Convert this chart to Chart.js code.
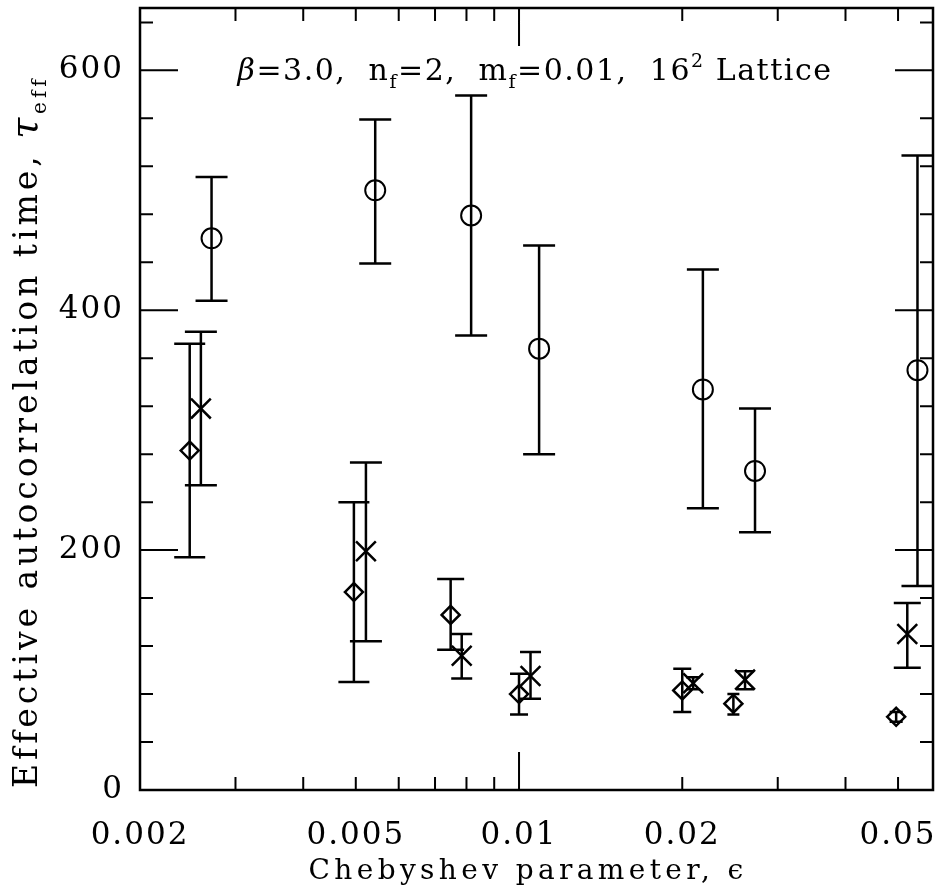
<!DOCTYPE html>
<html>
<head>
<meta charset="utf-8">
<script src="https://cdn.jsdelivr.net/npm/chart.js@4.4.1/dist/chart.umd.min.js"></script>
<style>
  html, body { margin: 0; padding: 0; background: #fff; }
</style>
</head>
<body>
<canvas id="chart" width="936" height="896"></canvas>
<script>
// circles (open)
const circleX  = [0.00271, 0.00543, 0.00816, 0.01089, 0.02183, 0.02724, 0.0543];
const circleY  = [460, 500, 479, 368, 334, 266, 350];
const circleLo = [408, 439, 379, 280, 235, 215, 170];
const circleHi = [511, 559, 579, 454, 434, 318, 529];

// crosses
const crossX  = [0.00259, 0.00522, 0.00784, 0.0105, 0.02095, 0.02611, 0.0520];
const crossY  = [318, 199, 112, 95, 89, 92, 130];
const crossLo = [254, 124, 93, 76, 84, 84, 102];
const crossHi = [382, 273, 130, 115, 94, 99, 156];

// diamonds
const diamondX  = [0.00247, 0.00496, 0.00748, 0.0100, 0.0200, 0.02485, 0.0496];
const diamondY  = [283, 165, 146, 80, 83, 72, 61];
const diamondLo = [194, 90, 117, 63, 65, 63, 57];
const diamondHi = [372, 240, 176, 97, 101, 80, 65];

// axes
const xTickValues = [0.002, 0.003, 0.004, 0.005, 0.006, 0.007, 0.008, 0.009, 0.01, 0.02, 0.03, 0.04, 0.05];
const xTickLabels = ["0.002", "0.005", "0.01", "0.02", "0.05"];
const yTickValues = [0, 40, 80, 120, 160, 200, 240, 280, 320, 360, 400, 440, 480, 520, 560, 600, 640];
const yTickLabels = ["0", "200", "400", "600"];

const FONT = '"DejaVu Serif", serif';

// cap widths (px) for the error bars
const circleCaps  = [32, 32, 32, 32, 32, 32, 32];
const crossCaps   = [32, 32, 21, 21, 14, 18, 27];
const diamondCaps = [31, 31, 27, 18, 18, 12, 13];

const errSeries = [
  { xs: circleX, lo: circleLo, hi: circleHi, caps: circleCaps },
  { xs: crossX, lo: crossLo, hi: crossHi, caps: crossCaps },
  { xs: diamondX, lo: diamondLo, hi: diamondHi, caps: diamondCaps },
];

function toPoints(xs, ys) {
  return xs.map((x, i) => ({ x: x, y: ys[i] }));
}

// draws text pieces (with sub/superscripts) centred on x, spread to a target width
function drawRich(ctx, parts, x, y, size, target) {
  const fontFor = (p) => (p.it ? 'italic ' : '') + Math.round(size * (p.scale || ((p.sub || p.sup) ? 0.62 : 1))) + 'px ' + FONT;
  ctx.letterSpacing = '0px';
  let natural = 0, count = 0;
  parts.forEach((p) => {
    ctx.font = fontFor(p);
    natural += ctx.measureText(p.t).width;
    count += p.t.length;
  });
  const ls = target ? Math.max(0, (target - natural) / count) : 0;
  let cx = x - (natural + ls * count) / 2;
  ctx.textAlign = 'left';
  ctx.textBaseline = 'alphabetic';
  ctx.letterSpacing = ls + 'px';
  parts.forEach((p) => {
    ctx.font = fontFor(p);
    const dy = p.sub ? size * 0.28 : (p.sup ? -size * 0.42 : 0);
    ctx.fillText(p.t, cx, y + dy);
    ctx.letterSpacing = '0px';
    cx += ctx.measureText(p.t).width + ls * p.t.length;
    ctx.letterSpacing = ls + 'px';
  });
  ctx.letterSpacing = '0px';
}

const framePlugin = {
  id: 'frame',
  beforeDraw(chart) {
    chart.ctx.letterSpacing = '2px';
  },
  beforeDatasetsDraw(chart) {
    const ctx = chart.ctx;
    const xs = chart.scales.x, ys = chart.scales.y;
    ctx.save();
    ctx.strokeStyle = '#000';
    ctx.lineWidth = 2.5;
    errSeries.forEach((s) => {
      s.xs.forEach((v, i) => {
        const px = xs.getPixelForValue(v);
        const pl = ys.getPixelForValue(s.lo[i]);
        const ph = ys.getPixelForValue(s.hi[i]);
        const w = s.caps[i] / 2;
        ctx.beginPath();
        ctx.moveTo(px, pl); ctx.lineTo(px, ph);
        ctx.moveTo(px - w, pl); ctx.lineTo(px + w, pl);
        ctx.moveTo(px - w, ph); ctx.lineTo(px + w, ph);
        ctx.stroke();
      });
    });
    ctx.restore();
  },
  afterDraw(chart) {
    const ctx = chart.ctx;
    const { left, right, top, bottom } = chart.chartArea;
    const xs = chart.scales.x, ys = chart.scales.y;
    ctx.save();
    ctx.strokeStyle = '#000';
    ctx.lineWidth = 2.5;
    ctx.strokeRect(left, top, right - left, bottom - top);
    ctx.lineWidth = 2;
    ctx.beginPath();
    xTickValues.forEach((v) => {
      const px = xs.getPixelForValue(v);
      const len = v === 0.01 ? 38 : 13;
      ctx.moveTo(px, bottom); ctx.lineTo(px, bottom - len);
      ctx.moveTo(px, top); ctx.lineTo(px, top + len);
    });
    yTickValues.forEach((v) => {
      if (v === 0) return;
      const py = ys.getPixelForValue(v);
      const len = v % 200 === 0 ? 38 : 13;
      ctx.moveTo(left, py); ctx.lineTo(left + len, py);
      ctx.moveTo(right, py); ctx.lineTo(right - len, py);
    });
    ctx.stroke();

    ctx.fillStyle = '#000';
    // title inside the plot
    drawRich(ctx, [
      { t: 'β', it: true }, { t: '=3.0,  n' }, { t: 'f', sub: true },
      { t: '=2,  m' }, { t: 'f', sub: true }, { t: '=0.01,  16' },
      { t: '2', sup: true }, { t: ' Lattice' },
    ], 535, 80, 30, 595);

    // x axis title
    drawRich(ctx, [{ t: 'Chebyshev parameter, ϵ' }], 528, 879, 28, 439);

    // y axis title
    ctx.translate(37, 432);
    ctx.rotate(-Math.PI / 2);
    drawRich(ctx, [
      { t: 'Effective autocorrelation time, ' }, { t: 'τ', it: true, scale: 1.15 }, { t: 'eff', sub: true },
    ], 0, 0, 33, 712);
    ctx.restore();
  },
};

const ctx = document.getElementById('chart').getContext('2d');

const chart = new Chart(ctx, {
  type: 'scatter',
  data: {
    datasets: [
      {
        label: 'circles',
        data: toPoints(circleX, circleY),
        pointStyle: 'circle',
        pointRadius: 10,
        borderColor: '#000',
        backgroundColor: 'rgba(0,0,0,0)',
        pointBorderWidth: 2,
      },
      {
        label: 'crosses',
        data: toPoints(crossX, crossY),
        pointStyle: 'crossRot',
        pointRadius: 14,
        borderColor: '#000',
        backgroundColor: 'rgba(0,0,0,0)',
        pointBorderWidth: 2.5,
      },
      {
        label: 'diamonds',
        data: toPoints(diamondX, diamondY),
        pointStyle: 'rectRot',
        pointRadius: 9,
        borderColor: '#000',
        backgroundColor: 'rgba(0,0,0,0)',
        pointBorderWidth: 2.5,
      },
    ],
  },
  options: {
    responsive: false,
    animation: false,
    devicePixelRatio: 1,
    layout: { autoPadding: false, padding: { top: 8, right: 3, left: 0, bottom: 0 } },
    plugins: {
      legend: { display: false },
      tooltip: { enabled: false },
    },
    scales: {
      x: {
        type: 'logarithmic',
        min: 0.002,
        max: 0.058,
        grid: { display: false, drawTicks: false },
        border: { display: false },
        afterBuildTicks: (scale) => { scale.ticks = xTickValues.map((v) => ({ value: v })); },
        afterFit: (scale) => {
          scale.height = 106;
          scale.paddingLeft = 0;
          scale.paddingRight = 0;
        },
        ticks: {
          autoSkip: false,
          maxRotation: 0,
          padding: 27,
          color: '#000',
          font: { family: FONT, size: 31 },
          callback: (value) => (xTickLabels.includes(String(value)) ? String(value) : ''),
        },
      },
      y: {
        type: 'linear',
        min: 0,
        max: 652,
        grid: { display: false, drawTicks: false },
        border: { display: false },
        afterBuildTicks: (scale) => { scale.ticks = yTickValues.map((v) => ({ value: v })); },
        afterFit: (scale) => {
          scale.width = 140;
          scale.paddingTop = 0;
          scale.paddingBottom = 0;
        },
        ticks: {
          autoSkip: false,
          padding: 16,
          color: '#000',
          font: { family: FONT, size: 31 },
          callback: (value) => (yTickLabels.includes(String(value)) ? String(value) : ''),
        },
      },
    },
  },
  plugins: [framePlugin],
});
</script>
</body>
</html>
